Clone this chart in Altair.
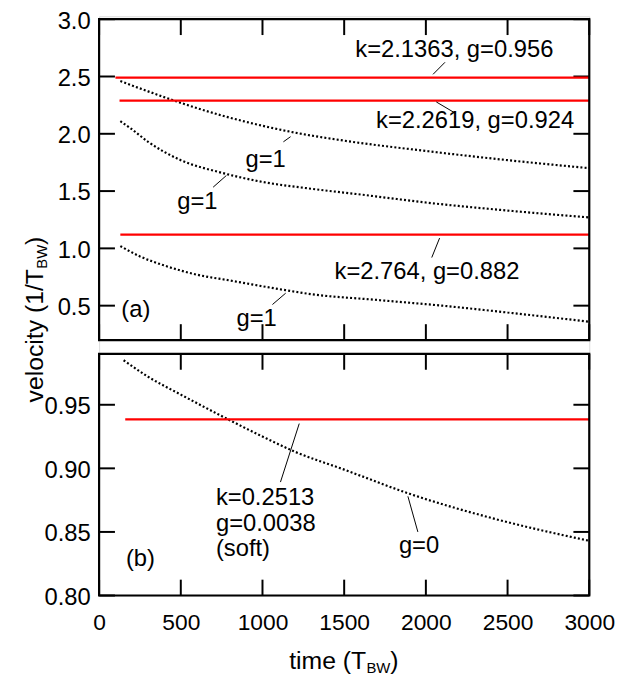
import altair as alt
import pandas as pd

FONT = "Liberation Sans"

# ---------------- panel (a) ----------------
# dotted g=1 curves
a1_t = [130, 300, 500, 750, 1000, 1200, 1500, 2000, 2500, 3000]
a1_v = [2.46, 2.37, 2.27, 2.16, 2.07, 2.01, 1.94, 1.85, 1.77, 1.70]
a2_t = [130, 200, 300, 500, 750, 1000, 1300, 1600, 2000, 2500, 3000]
a2_v = [2.11, 2.04, 1.93, 1.77, 1.66, 1.58, 1.52, 1.47, 1.40, 1.33, 1.27]
a3_t = [130, 250, 400, 600, 800, 1100, 1300, 1700, 2100, 2500, 3000]
a3_v = [1.02, 0.93, 0.85, 0.77, 0.72, 0.645, 0.60, 0.55, 0.50, 0.44, 0.36]

# red constant-velocity lines
red_a_v = [2.49, 2.29, 1.12]
red_a_t0 = [100, 125, 130]
red_a_t1 = [3000, 3000, 3000]

# annotations (a)
ann_a_text = ["k=2.1363, g=0.956", "k=2.2619, g=0.924", "k=2.764, g=0.882",
              "g=1", "g=1", "g=1", "(a)"]
ann_a_t = [1568, 1695, 1441, 896, 478, 841, 136]
ann_a_v = [2.666, 2.052, 0.731, 1.712, 1.345, 0.326, 0.405]
lead_a_t1 = [2044, 2064, 2084, 1128, 698, 1061]
lead_a_v1 = [2.519, 2.278, 1.090, 1.930, 1.534, 0.510]
lead_a_t2 = [2117, 2181, 2036, 1172, 779, 1142]
lead_a_v2 = [2.624, 2.179, 0.920, 1.975, 1.636, 0.609]

# ---------------- panel (b) ----------------
b_t = [150, 300, 500, 790, 1000, 1200, 1500, 1900, 2400, 3000]
b_v = [0.985, 0.972, 0.958, 0.9385, 0.925, 0.913, 0.899, 0.880, 0.861, 0.843]
red_b_v = [0.9385]
red_b_t0 = [160]
red_b_t1 = [3000]

ann_b_text = ["(b)", "k=0.2513", "g=0.0038", "(soft)", "g=0"]
ann_b_t = [164, 715, 715, 715, 1835]
ann_b_v = [0.8236, 0.8715, 0.8509, 0.831, 0.8338]
lead_b_t1 = [1225, 1890]
lead_b_v1 = [0.9352, 0.878]
lead_b_t2 = [1110, 1951]
lead_b_v2 = [0.8892, 0.850]

# axes / ticks
x_dom = [0, 3000]
ya_dom = [0.2, 3.0]
yb_dom = [0.80, 0.99]
x_ticks = [0, 500, 1000, 1500, 2000, 2500, 3000]
ya_ticks = [0.5, 1.0, 1.5, 2.0, 2.5, 3.0]
yb_ticks = [0.80, 0.85, 0.90, 0.95]

# ---------------- layout (pixels) ----------------
W = 495
A_TOP, A_BOT = 3, 327
B_TOP, B_BOT = 341, 585
TL = 16

xs = alt.Scale(domain=x_dom, nice=False, zero=False)
ya = alt.Scale(domain=ya_dom, range=[A_BOT, A_TOP], nice=False, zero=False)
yb = alt.Scale(domain=yb_dom, range=[B_BOT, B_TOP], nice=False, zero=False)

x_axis = alt.Axis(values=x_ticks, format="d", labelFont=FONT, labelFontSize=23,
                  labelColor="black", labelPadding=16, ticks=False, tickSize=0,
                  domain=False, grid=False, title=None, labelOverlap=False,
                  labelFlush=False, labelBound=False)
ya_axis = alt.Axis(values=ya_ticks, format=".1f", labelFont=FONT, labelFontSize=24,
                   labelColor="black", labelPadding=9, labelOffset=2, ticks=False,
                   tickSize=0, domain=False, grid=False, title=None, orient="left",
                   labelOverlap=False, labelFlush=False, labelBound=False)
yb_axis = alt.Axis(values=yb_ticks, format=".2f", labelFont=FONT, labelFontSize=24,
                   labelColor="black", labelPadding=9, labelOffset=2, ticks=False,
                   tickSize=0, domain=False, grid=False, title=None, orient="left",
                   labelOverlap=False, labelFlush=False, labelBound=False)

X = lambda f: alt.X(f, type="quantitative", scale=xs, axis=x_axis)


def panel(ydom, yscale, yaxis, yticks, top, bot, curves, red, ann, leads):
    Y = lambda f: alt.Y(f, type="quantitative", scale=yscale, axis=yaxis)
    border = alt.Chart(pd.DataFrame({"x0": [x_dom[0]], "x1": [x_dom[1]],
                                     "y0": [ydom[0]], "y1": [ydom[1]]})).mark_rect(
        fillOpacity=0, stroke="black", strokeWidth=2.2).encode(
        x=X("x0"), x2="x1", y=Y("y0"), y2="y1")
    ydf = pd.DataFrame({"v": yticks})
    lt = alt.Chart(ydf).mark_rule(color="black", strokeWidth=2).encode(
        y=Y("v"), x=alt.value(0), x2=alt.value(TL))
    rt = alt.Chart(ydf).mark_rule(color="black", strokeWidth=2).encode(
        y=Y("v"), x=alt.value(W - TL), x2=alt.value(W))
    xdf = pd.DataFrame({"t": x_ticks})
    tt = alt.Chart(xdf).mark_rule(color="black", strokeWidth=2).encode(
        x=X("t"), y=alt.value(top), y2=alt.value(top + TL))
    bt = alt.Chart(xdf).mark_rule(color="black", strokeWidth=2).encode(
        x=X("t"), y=alt.value(bot - TL), y2=alt.value(bot))
    dots = alt.Chart(curves).mark_line(color="black", strokeWidth=2.2,
                                       strokeDash=[2, 2.2], interpolate="monotone").encode(
        x=X("t"), y=Y("v"), detail="curve:N")
    reds = alt.Chart(red).mark_rule(color="#ff0000", strokeWidth=2.4).encode(
        x=X("t0"), x2="t1", y=Y("v"))
    ld = alt.Chart(leads).mark_rule(color="black", strokeWidth=1).encode(
        x=X("t1"), x2="t2", y=Y("v1"), y2="v2")
    tx = alt.Chart(ann).mark_text(align="left", baseline="alphabetic", font=FONT,
                                  fontSize=24, color="black").encode(
        x=X("t"), y=Y("v"), text="label:N")
    return [lt, rt, tt, bt, dots, reds, ld, tx, border]


curves_a = pd.concat([
    pd.DataFrame({"t": a1_t, "v": a1_v, "curve": "a1"}),
    pd.DataFrame({"t": a2_t, "v": a2_v, "curve": "a2"}),
    pd.DataFrame({"t": a3_t, "v": a3_v, "curve": "a3"}),
])
red_a = pd.DataFrame({"t0": red_a_t0, "t1": red_a_t1, "v": red_a_v})
ann_a = pd.DataFrame({"t": ann_a_t, "v": ann_a_v, "label": ann_a_text})
lead_a = pd.DataFrame({"t1": lead_a_t1, "t2": lead_a_t2, "v1": lead_a_v1, "v2": lead_a_v2})

curves_b = pd.DataFrame({"t": b_t, "v": b_v, "curve": "b"})
red_b = pd.DataFrame({"t0": red_b_t0, "t1": red_b_t1, "v": red_b_v})
ann_b = pd.DataFrame({"t": ann_b_t, "v": ann_b_v, "label": ann_b_text})
lead_b = pd.DataFrame({"t1": lead_b_t1, "t2": lead_b_t2, "v1": lead_b_v1, "v2": lead_b_v2})

layers_a = panel(ya_dom, ya, ya_axis, ya_ticks, A_TOP, A_BOT, curves_a, red_a, ann_a, lead_a)
layers_b = panel(yb_dom, yb, yb_axis, yb_ticks, B_TOP, B_BOT, curves_b, red_b, ann_b, lead_b)

one = pd.DataFrame({"d": [0]})


def label(txt, x, y, size, angle=0):
    return alt.Chart(one).mark_text(text=txt, align="left", baseline="alphabetic",
                                    font=FONT, fontSize=size, angle=angle,
                                    color="black").encode(x=alt.value(x), y=alt.value(y))


titles = [
    label("velocity (1/T", -57, 390, 25, 270),
    label("BW", -53, 255, 15, 270),
    label(")", -57, 231, 25, 270),
    label("time (T", 192, 659, 25),
    label("BW", 270, 663, 15),
    label(")", 294, 659, 25),
]

chart = alt.layer(
    alt.layer(*layers_a, *titles),
    alt.layer(*layers_b),
).resolve_scale(y="independent").properties(
    width=W, height=B_BOT,
    autosize=alt.AutoSizeParams(type="none"),
    padding={"left": 92, "top": 5, "right": 26, "bottom": 82},
).configure_view(stroke=None).configure(background="white")

chart.save("out.html", embed_options={"renderer": "svg", "actions": False})
